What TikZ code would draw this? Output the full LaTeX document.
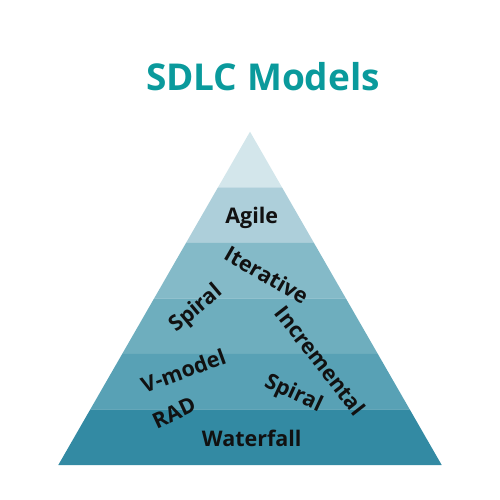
\documentclass[tikz,border=0pt]{standalone}
\usepackage{fontspec}
\setmainfont{Open Sans}
\usetikzlibrary{positioning}

\definecolor{titleteal}{HTML}{0A9A9C}
\definecolor{bandA}{HTML}{D3E6EB}
\definecolor{bandB}{HTML}{ADCFDA}
\definecolor{bandC}{HTML}{84BAC8}
\definecolor{bandD}{HTML}{6EAEBE}
\definecolor{bandE}{HTML}{58A1B5}
\definecolor{bandF}{HTML}{338AA3}
\definecolor{ink}{HTML}{111111}

\begin{document}
\begin{tikzpicture}[
            x = 1pt,
            y = -1pt, % y runs down like the picture
            inner sep = 0pt
        ]

        \tikzset{
            model/.style = {
                text = ink,
                font = \fontsize{21.5}{21.5}\selectfont\bfseries
            },
            heading/.style = {
                text = titleteal,
                font = \fontsize{37}{37}\selectfont\bfseries
            }
        }

        \useasboundingbox (0,0) rectangle (500,500);

	% pyramid bands, top to bottom
        \foreach \k/\col in {0/bandA,1/bandB,2/bandC,3/bandD,4/bandE,5/bandF}{
            \pgfmathsetmacro{\ytop}{131.7+55.55*\k}
            \pgfmathsetmacro{\ybot}{131.7+55.55*(\k+1)}
            \pgfmathsetmacro{\wtop}{31.95*\k}
            \pgfmathsetmacro{\wbot}{31.95*(\k+1)}
            \fill[\col] (250-\wtop,\ytop) -- (250+\wtop,\ytop)
                -- (250+\wbot,\ybot) -- (250-\wbot,\ybot) -- cycle;
        }

         % title
        \node[heading] (title) at (263,77) {SDLC Models};

         % models
        \node[model] (agile) at (251.7,217.7) {Agile};
        \node[model, rotate=-30] (iterative) at (266.7,275) {Iterative};
        \node[model, rotate=40] (spiralL) at (196.7,309) {Spiral};
        \node[model, rotate=-52] (incremental) at (320.7,360.7) {Incremental};
        \node[model, rotate=20] (vmodel) at (183.3,370.7) {V-model};
        \node[model, rotate=25] (rad) at (174,412.7) {RAD};
        \node[model, rotate=-25] (spiralR) at (293.3,394) {Spiral};
        \node[model] (waterfall) at (251.7,438.3) {Waterfall};

  \end{tikzpicture}
\end{document}
